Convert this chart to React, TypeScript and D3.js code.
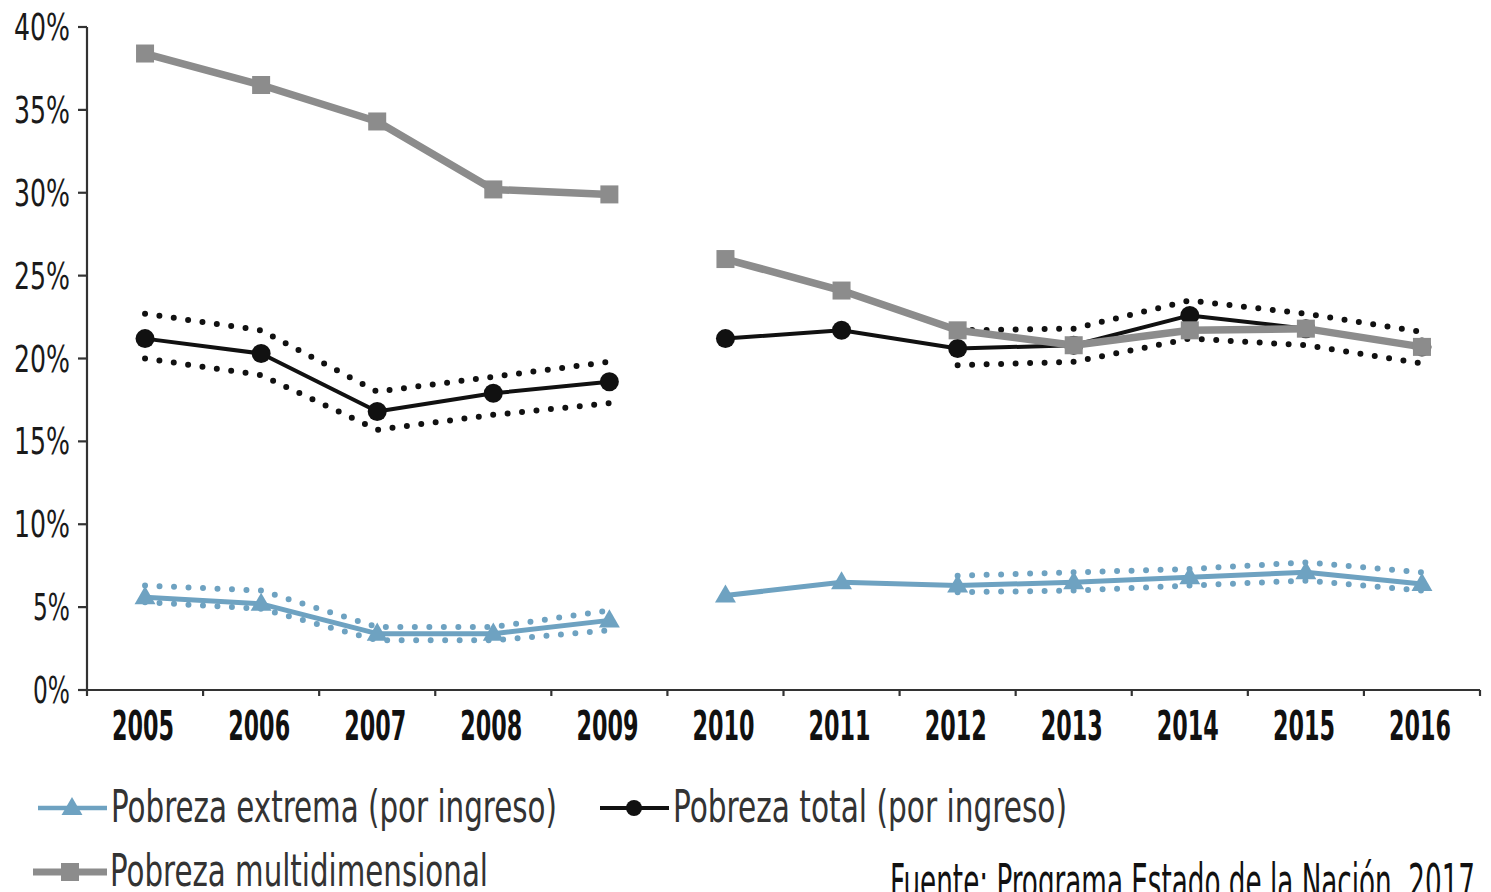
import * as d3 from 'd3'

const years = ['2005', '2006', '2007', '2008', '2009', '2010', '2011', '2012', '2013', '2014', '2015', '2016']
// the series break between 2009 and 2010
const periods = [years.slice(0, 5), years.slice(5)]

const multidimensional = [38.4, 36.5, 34.3, 30.2, 29.9, 26.0, 24.1, 21.7, 20.8, 21.7, 21.8, 20.7]
const total = [21.2, 20.3, 16.8, 17.9, 18.6, 21.2, 21.7, 20.6, 20.8, 22.6, 21.8, 20.7]
const totalUpper = [22.7, 21.7, 18.0, 18.9, 19.8, null, null, 21.7, 21.8, 23.5, 22.7, 21.6]
const totalLower = [20.0, 19.0, 15.7, 16.6, 17.3, null, null, 19.6, 19.8, 21.2, 20.8, 19.7]
const extreme = [5.6, 5.2, 3.4, 3.4, 4.2, 5.7, 6.5, 6.3, 6.5, 6.8, 7.1, 6.4]
const extremeUpper = [6.3, 6.0, 3.8, 3.8, 4.8, null, null, 6.9, 7.1, 7.3, 7.7, 7.1]
const extremeLower = [5.3, 4.9, 3.0, 3.0, 3.6, null, null, 5.9, 6.0, 6.3, 6.6, 6.0]

const yTicks = [0, 5, 10, 15, 20, 25, 30, 35, 40]

const legendItems = ['Pobreza extrema (por ingreso)', 'Pobreza total (por ingreso)', 'Pobreza multidimensional']
const sourceText = 'Fuente: Programa Estado de la Nación, 2017'

const W = 1491
const H = 892
const BLUE = '#6ea2c1'
const GRAY = '#8c8c8c'
const INK = '#111'
const AXIS = '#333'
const narrow = '"Liberation Sans Narrow", "DejaVu Sans Condensed", "Roboto", sans-serif'

const x = d3.scaleBand<string>().domain(years).range([87, 1480]).paddingInner(0).paddingOuter(0)
const y = d3.scaleLinear().domain([0, 40]).range([690, 27])
const cx = (yr: string) => (x(yr) ?? 0) + x.bandwidth() / 2

type Pt = { year: string; v: number | null }

function pts(values: (number | null)[], yrs: string[]): Pt[] {
  return yrs.map((yr) => ({ year: yr, v: values[years.indexOf(yr)] }))
}

const line = d3
  .line<Pt>()
  .defined((d) => d.v !== null)
  .x((d) => cx(d.year))
  .y((d) => y(d.v as number))

function Series({ values, stroke, width }: { values: (number | null)[]; stroke: string; width: number }) {
  return (
    <g>
      {periods.map((p, i) => (
        <path key={i} d={line(pts(values, p)) ?? ''} fill="none" stroke={stroke} strokeWidth={width} strokeLinejoin="round" />
      ))}
    </g>
  )
}

function Dotted({ values, stroke }: { values: (number | null)[]; stroke: string }) {
  return (
    <g>
      {periods.map((p, i) => (
        <path
          key={i}
          d={line(pts(values, p)) ?? ''}
          fill="none"
          stroke={stroke}
          strokeWidth={6}
          strokeLinecap="round"
          strokeDasharray="0 14.5"
        />
      ))}
    </g>
  )
}

const triangle = d3.symbol(d3.symbolTriangle, 190)

export default function App() {
  const boundaries = years.map((yr) => x(yr) ?? 0).concat([x.range()[1]])

  return (
    <svg width={W} height={H} viewBox={`0 0 ${W} ${H}`} style={{ position: 'absolute', left: 0, top: 0, background: '#fff' }}>
      {/* y axis */}
      <line x1={87} x2={87} y1={y(40)} y2={y(0)} stroke={AXIS} strokeWidth={2.2} />
      {yTicks.map((t) => (
        <g key={t}>
          <line x1={78} x2={87} y1={y(t)} y2={y(t)} stroke={AXIS} strokeWidth={2.2} />
          <text
            x={70}
            y={y(t) + 13}
            textAnchor="end"
            fontFamily={narrow}
            fontSize={37}
            fill="#1a1a1a"
            textLength={String(t).length * 19 + 18}
            lengthAdjust="spacingAndGlyphs"
          >
            {t}%
          </text>
        </g>
      ))}

      {/* x axis */}
      <line x1={87} x2={x.range()[1]} y1={y(0)} y2={y(0)} stroke={AXIS} strokeWidth={2.2} />
      {boundaries.map((b, i) => (
        <line key={i} x1={b} x2={b} y1={y(0)} y2={y(0) + 6} stroke={AXIS} strokeWidth={2.2} />
      ))}
      {years.map((yr) => (
        <text
          key={yr}
          x={cx(yr) - 2}
          y={740}
          textAnchor="middle"
          fontFamily={narrow}
          fontWeight="bold"
          fontSize={40}
          fill="#111"
          textLength={62}
          lengthAdjust="spacingAndGlyphs"
        >
          {yr}
        </text>
      ))}

      {/* pobreza extrema */}
      <Dotted values={extremeUpper} stroke={BLUE} />
      <Dotted values={extremeLower} stroke={BLUE} />
      <Series values={extreme} stroke={BLUE} width={5} />
      {years.map((yr, i) => (
        <path key={yr} d={triangle() ?? ''} transform={`translate(${cx(yr)},${y(extreme[i]) + 1})`} fill={BLUE} />
      ))}

      {/* pobreza total */}
      <Dotted values={totalUpper} stroke={INK} />
      <Dotted values={totalLower} stroke={INK} />
      <Series values={total} stroke={INK} width={4} />
      {years.map((yr, i) => (
        <circle key={yr} cx={cx(yr)} cy={y(total[i])} r={9.5} fill={INK} />
      ))}

      {/* pobreza multidimensional */}
      <Series values={multidimensional} stroke={GRAY} width={7.5} />
      {years.map((yr, i) => (
        <rect key={yr} x={cx(yr) - 9} y={y(multidimensional[i]) - 9} width={18} height={18} fill={GRAY} />
      ))}

      {/* legend */}
      <g>
        <line x1={38} x2={107} y1={808} y2={808} stroke={BLUE} strokeWidth={4.5} />
        <path d={triangle() ?? ''} transform="translate(72,809)" fill={BLUE} />
        <text x={111} y={822} fontFamily={narrow} fontSize={44} fill="#333" textLength={446} lengthAdjust="spacingAndGlyphs">
          {legendItems[0]}
        </text>

        <line x1={600} x2={669} y1={808} y2={808} stroke={INK} strokeWidth={4} />
        <circle cx={634} cy={808} r={8} fill={INK} />
        <text x={673} y={822} fontFamily={narrow} fontSize={44} fill="#333" textLength={394} lengthAdjust="spacingAndGlyphs">
          {legendItems[1]}
        </text>

        <line x1={33} x2={107} y1={872} y2={872} stroke={GRAY} strokeWidth={7} />
        <rect x={61} y={863} width={18} height={18} fill={GRAY} />
        <text x={110} y={886} fontFamily={narrow} fontSize={44} fill="#333" textLength={378} lengthAdjust="spacingAndGlyphs">
          {legendItems[2]}
        </text>
      </g>

      <text x={890} y={899} fontFamily={narrow} fontSize={50} fill="#111" textLength={585} lengthAdjust="spacingAndGlyphs">
        {sourceText}
      </text>
    </svg>
  )
}
